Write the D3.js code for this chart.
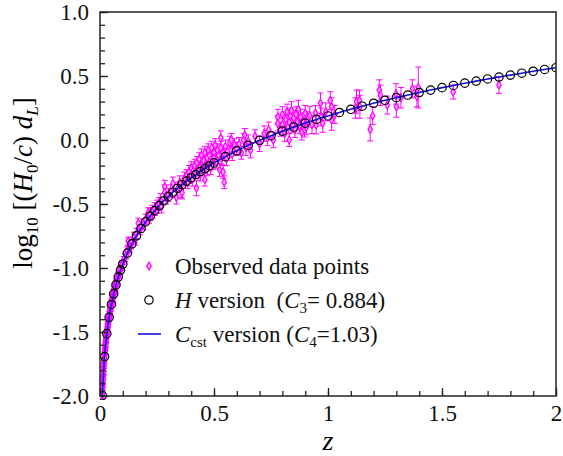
<!DOCTYPE html>
<html>
<head>
<meta charset="utf-8">
<script src="https://cdn.jsdelivr.net/npm/d3@7"></script>
<style>
  body { margin: 0; background: #fff; }
  svg { font-family: "Liberation Serif", "Times New Roman", serif; }
</style>
</head>
<body>
<div id="app"></div>
<script>
const width = 563,
  height = 456,
  margin = { top: 12, right: 7, bottom: 60, left: 100 };

// model curve (H version circles, C_cst line passes through them)
const modelZ = [0.01, 0.02, 0.03, 0.04, 0.05, 0.06, 0.07, 0.08, 0.09, 0.10,
  0.12, 0.14, 0.16, 0.18, 0.20, 0.22, 0.24, 0.26, 0.28, 0.30,
  0.32, 0.34, 0.36, 0.38, 0.40, 0.42, 0.44, 0.46, 0.48, 0.50,
  0.55, 0.60, 0.65, 0.70, 0.75, 0.80, 0.85, 0.90, 0.95, 1.00,
  1.05, 1.10, 1.15, 1.20, 1.25, 1.30, 1.35, 1.40, 1.45, 1.50,
  1.55, 1.60, 1.65, 1.70, 1.75, 1.80, 1.85, 1.90, 1.95, 2.00];
const modelY = [-1.997, -1.692, -1.513, -1.385, -1.285, -1.202, -1.132, -1.071, -1.016, -0.969,
  -0.884, -0.811, -0.748, -0.691, -0.640, -0.594, -0.551, -0.512, -0.475, -0.441,
  -0.408, -0.378, -0.349, -0.321, -0.295, -0.270, -0.246, -0.223, -0.201, -0.179,
  -0.130, -0.084, -0.042, -0.002, 0.034, 0.069, 0.101, 0.132, 0.161, 0.188,
  0.215, 0.240, 0.264, 0.287, 0.310, 0.331, 0.351, 0.371, 0.390, 0.409,
  0.426, 0.444, 0.460, 0.477, 0.492, 0.507, 0.522, 0.537, 0.551, 0.565];

// observed points: redshift, log10 distance, error
const obsZ = [0.010, 0.011, 0.012, 0.012, 0.013, 0.014, 0.014, 0.015, 0.015, 0.016,
  0.016, 0.017, 0.018, 0.018, 0.019, 0.020, 0.020, 0.021, 0.022, 0.022,
  0.023, 0.024, 0.024, 0.025, 0.026, 0.026, 0.027, 0.028, 0.029, 0.030,
  0.030, 0.031, 0.032, 0.033, 0.034, 0.035, 0.036, 0.036, 0.037, 0.038,
  0.039, 0.040, 0.041, 0.042, 0.043, 0.044, 0.045, 0.046, 0.047, 0.048,
  0.049, 0.050, 0.051, 0.052, 0.053, 0.054, 0.055, 0.056, 0.057, 0.058,
  0.059, 0.060, 0.061, 0.062, 0.063, 0.064, 0.065, 0.066, 0.067, 0.068,
  0.069, 0.070, 0.072, 0.073, 0.075, 0.076, 0.078, 0.080, 0.082, 0.084,
  0.086, 0.088, 0.090, 0.093, 0.095, 0.098,
  0.104, 0.110, 0.116, 0.120, 0.124, 0.130, 0.136, 0.140, 0.150, 0.155,
  0.160, 0.168, 0.175, 0.180, 0.190, 0.200, 0.211, 0.215, 0.220, 0.230,
  0.240, 0.250, 0.260, 0.265, 0.270, 0.284, 0.284, 0.290, 0.300, 0.310,
  0.320, 0.335, 0.340, 0.350, 0.357, 0.360, 0.370,
  0.380, 0.385, 0.390, 0.395, 0.400, 0.400, 0.405, 0.410, 0.415, 0.420,
  0.423, 0.425, 0.430, 0.435, 0.440, 0.440, 0.445, 0.450, 0.450, 0.455,
  0.460, 0.460, 0.465, 0.470, 0.470, 0.475, 0.480, 0.480, 0.485, 0.490,
  0.490, 0.495, 0.500, 0.500, 0.505, 0.510, 0.515, 0.520, 0.525, 0.530,
  0.530, 0.535, 0.540, 0.540, 0.545, 0.550, 0.555, 0.560, 0.570, 0.576,
  0.580, 0.590, 0.600,
  0.610, 0.620, 0.630, 0.635, 0.640, 0.650, 0.660, 0.680, 0.700, 0.720,
  0.735, 0.740, 0.760,
  0.780, 0.780, 0.790, 0.800, 0.800, 0.810, 0.815, 0.820, 0.825, 0.830,
  0.830, 0.835, 0.840, 0.845, 0.850, 0.855, 0.860, 0.865, 0.870, 0.875,
  0.880, 0.885, 0.890, 0.897, 0.900, 0.905, 0.910, 0.920,
  0.930, 0.945, 0.948, 0.967, 0.970, 0.977, 0.990, 1.010, 1.016, 1.016,
  1.030, 1.120, 1.125, 1.138, 1.140, 1.185, 1.196, 1.225, 1.230, 1.260,
  1.298, 1.300, 1.320, 1.370, 1.390, 1.396, 1.549, 1.750];
const obsY = [-1.99, -1.95, -1.93, -1.90, -1.88, -1.84, -1.87, -1.80, -1.83, -1.78,
  -1.81, -1.76, -1.74, -1.72, -1.71, -1.68, -1.70, -1.66, -1.65, -1.63,
  -1.62, -1.61, -1.59, -1.60, -1.57, -1.55, -1.56, -1.54, -1.52, -1.51,
  -1.49, -1.50, -1.48, -1.46, -1.45, -1.44, -1.42, -1.44, -1.41, -1.40,
  -1.39, -1.38, -1.36, -1.37, -1.35, -1.33, -1.34, -1.32, -1.30, -1.31,
  -1.29, -1.28, -1.27, -1.26, -1.25, -1.25, -1.23, -1.24, -1.22, -1.21,
  -1.20, -1.21, -1.19, -1.18, -1.17, -1.18, -1.16, -1.15, -1.14, -1.15,
  -1.13, -1.12, -1.11, -1.12, -1.09, -1.10, -1.07, -1.06, -1.05, -1.05,
  -1.03, -1.02, -1.01, -0.99, -0.98, -0.97,
  -0.94, -0.92, -0.90, -0.86, -0.79, -0.85, -0.82, -0.80, -0.76, -0.78,
  -0.73, -0.65, -0.70, -0.68, -0.66, -0.62, -0.57, -0.61, -0.58, -0.56,
  -0.54, -0.52, -0.50, -0.47, -0.52, -0.365, -0.41, -0.45, -0.43, -0.40,
  -0.34, -0.45, -0.38, -0.33, -0.39, -0.41, -0.30,
  -0.28, -0.33, -0.25, -0.30, -0.22, -0.27, -0.31, -0.24, -0.20, -0.26,
  -0.375, -0.18, -0.23, -0.15, -0.21, -0.27, -0.12, -0.19, -0.24, -0.16,
  -0.31, -0.10, -0.20, -0.14, -0.23, -0.08, -0.17, -0.12, -0.22, -0.06,
  -0.15, -0.19, -0.10, -0.14, -0.04, -0.17, -0.08, -0.12, -0.234, 0.016,
  -0.06, -0.14, -0.25, -0.10, -0.33, -0.05, -0.15, -0.09, -0.02, 0.00,
  -0.11, -0.04, -0.07,
  -0.03, -0.10, 0.00, 0.04, -0.06, -0.01, -0.08, 0.03, -0.03, 0.05,
  0.016, 0.08, 0.00,
  0.18, 0.13, 0.08, 0.20, 0.12, 0.05, 0.16, 0.22, 0.10, 0.00,
  0.14, 0.19, 0.23, 0.12, 0.17, 0.08, 0.20, 0.14, 0.24, 0.11,
  0.18, 0.06, 0.15, 0.083, 0.21, 0.10, 0.16, 0.19,
  0.12, 0.21, 0.117, 0.287, 0.18, 0.13, 0.22, 0.307, 0.26, 0.156,
  0.20, 0.25, 0.30, 0.31, 0.26, 0.083, 0.19, 0.39, 0.35, 0.273,
  0.36, 0.258, 0.33, 0.40, 0.34, 0.41, 0.375, 0.43];
const obsE = [0.03, 0.03, 0.03, 0.03, 0.03, 0.03, 0.03, 0.03, 0.03, 0.03,
  0.025, 0.025, 0.025, 0.025, 0.025, 0.025, 0.025, 0.025, 0.025, 0.025,
  0.025, 0.025, 0.025, 0.02, 0.02, 0.02, 0.02, 0.02, 0.02, 0.02,
  0.02, 0.02, 0.02, 0.02, 0.02, 0.02, 0.02, 0.02, 0.02, 0.02,
  0.02, 0.02, 0.02, 0.02, 0.02, 0.02, 0.02, 0.02, 0.02, 0.02,
  0.02, 0.02, 0.02, 0.02, 0.02, 0.02, 0.02, 0.02, 0.02, 0.02,
  0.02, 0.02, 0.02, 0.02, 0.02, 0.02, 0.02, 0.02, 0.02, 0.025,
  0.025, 0.025, 0.025, 0.025, 0.025, 0.025, 0.025, 0.025, 0.025, 0.025,
  0.025, 0.03, 0.03, 0.03, 0.03, 0.03,
  0.03, 0.03, 0.03, 0.03, 0.03, 0.03, 0.03, 0.04, 0.04, 0.04,
  0.04, 0.04, 0.04, 0.04, 0.04, 0.04, 0.04, 0.04, 0.05, 0.05,
  0.05, 0.05, 0.05, 0.05, 0.05, 0.05, 0.06, 0.05, 0.05, 0.05,
  0.05, 0.05, 0.05, 0.05, 0.06, 0.05, 0.05,
  0.05, 0.05, 0.05, 0.04, 0.05, 0.05, 0.05, 0.05, 0.05, 0.04,
  0.06, 0.05, 0.05, 0.05, 0.04, 0.05, 0.05, 0.05, 0.04, 0.05,
  0.05, 0.05, 0.04, 0.05, 0.05, 0.05, 0.05, 0.04, 0.05, 0.05,
  0.05, 0.04, 0.05, 0.05, 0.05, 0.05, 0.05, 0.05, 0.05, 0.055,
  0.05, 0.05, 0.05, 0.05, 0.05, 0.05, 0.05, 0.05, 0.05, 0.05,
  0.05, 0.05, 0.05,
  0.05, 0.05, 0.05, 0.05, 0.06, 0.05, 0.06, 0.05, 0.06, 0.06,
  0.06, 0.06, 0.06,
  0.06, 0.06, 0.05, 0.06, 0.05, 0.06, 0.06, 0.06, 0.05, 0.05,
  0.06, 0.06, 0.07, 0.06, 0.06, 0.06, 0.06, 0.06, 0.07, 0.06,
  0.06, 0.06, 0.06, 0.06, 0.06, 0.06, 0.06, 0.07,
  0.07, 0.06, 0.07, 0.08, 0.07, 0.07, 0.07, 0.07, 0.07, 0.08,
  0.07, 0.08, 0.09, 0.08, 0.09, 0.09, 0.07, 0.08, 0.08, 0.07,
  0.08, 0.08, 0.08, 0.07, 0.08, 0.16, 0.055, 0.065];

const xTicks = [0, 0.5, 1, 1.5, 2];
const xTickLabels = ["0", "0.5", "1", "1.5", "2"];
const yTicks = [-2, -1.5, -1, -0.5, 0, 0.5, 1];
const yTickLabels = ["-2.0", "-1.5", "-1.0", "-0.5", "0.0", "0.5", "1.0"];

const magenta = "#ff00ff",
  blue = "#1010e0";

const xScale = d3.scaleLinear().domain([0, 2]).range([margin.left, width - margin.right]);
const yScale = d3.scaleLinear().domain([-2, 1]).range([height - margin.bottom, margin.top]);

const svg = d3
  .select("#app")
  .append("svg")
  .attr("width", width)
  .attr("height", height);

svg.append("defs")
  .append("clipPath")
  .attr("id", "clip")
  .append("rect")
  .attr("x", margin.left)
  .attr("y", margin.top - 4)
  .attr("width", width - margin.left - margin.right)
  .attr("height", height - margin.top - margin.bottom + 8);

const obs = obsZ.map((z, i) => ({ z: z, y: obsY[i], e: obsE[i] }));
const model = modelZ.map((z, i) => ({ z: z, y: modelY[i] }));

const plot = svg.append("g").attr("clip-path", "url(#clip)");

// error bars
const bars = plot.append("g")
  .attr("stroke", magenta)
  .attr("stroke-width", 1)
  .selectAll("g")
  .data(obs)
  .join("g");
bars.append("line")
  .attr("x1", (d) => xScale(d.z))
  .attr("x2", (d) => xScale(d.z))
  .attr("y1", (d) => yScale(d.y - d.e))
  .attr("y2", (d) => yScale(d.y + d.e));
bars.append("line")
  .attr("x1", (d) => xScale(d.z) - 3)
  .attr("x2", (d) => xScale(d.z) + 3)
  .attr("y1", (d) => yScale(d.y - d.e))
  .attr("y2", (d) => yScale(d.y - d.e));
bars.append("line")
  .attr("x1", (d) => xScale(d.z) - 3)
  .attr("x2", (d) => xScale(d.z) + 3)
  .attr("y1", (d) => yScale(d.y + d.e))
  .attr("y2", (d) => yScale(d.y + d.e));

const diamond = d3.symbol(d3.symbolDiamond, 18);
plot.append("g")
  .selectAll("path")
  .data(obs)
  .join("path")
  .attr("transform", (d) => `translate(${xScale(d.z)},${yScale(d.y)})`)
  .attr("d", diamond)
  .attr("fill", "#ff9cff")
  .attr("stroke", magenta)
  .attr("stroke-width", 1.2);

// C_cst line
plot.append("path")
  .datum(model)
  .attr("fill", "none")
  .attr("stroke", blue)
  .attr("stroke-width", 1.6)
  .attr("d", d3.line().x((d) => xScale(d.z)).y((d) => yScale(d.y)).curve(d3.curveMonotoneX));

// H version circles
plot.append("g")
  .selectAll("circle")
  .data(model)
  .join("circle")
  .attr("cx", (d) => xScale(d.z))
  .attr("cy", (d) => yScale(d.y))
  .attr("r", 4.2)
  .attr("fill", "none")
  .attr("stroke", "#000")
  .attr("stroke-width", 1.2);

// frame
svg.append("rect")
  .attr("x", margin.left)
  .attr("y", margin.top)
  .attr("width", width - margin.left - margin.right)
  .attr("height", height - margin.top - margin.bottom)
  .attr("fill", "none")
  .attr("stroke", "#222")
  .attr("stroke-width", 1.5);

// axes with inward ticks
const xAxis = (g) =>
  g
    .attr("transform", `translate(0,${height - margin.bottom})`)
    .call(d3.axisBottom(xScale).tickValues(d3.range(0, 2.001, 0.1)).tickSize(-5).tickFormat(""))
    .call((g) => g.select(".domain").remove());
const xAxisMajor = (g) =>
  g
    .attr("transform", `translate(0,${height - margin.bottom})`)
    .call(d3.axisBottom(xScale).tickValues(xTicks).tickSize(-8).tickPadding(9)
      .tickFormat((d, i) => xTickLabels[i]))
    .call((g) => g.select(".domain").remove());
const yAxis = (g) =>
  g
    .attr("transform", `translate(${margin.left},0)`)
    .call(d3.axisLeft(yScale).tickValues(d3.range(-2, 1.001, 0.1)).tickSize(-5).tickFormat(""))
    .call((g) => g.select(".domain").remove());
const yAxisMajor = (g) =>
  g
    .attr("transform", `translate(${margin.left},0)`)
    .call(d3.axisLeft(yScale).tickValues(yTicks).tickSize(-8).tickPadding(11)
      .tickFormat((d, i) => yTickLabels[i]))
    .call((g) => g.select(".domain").remove());

[xAxis, xAxisMajor, yAxis, yAxisMajor].forEach((ax) => {
  const g = svg.append("g").call(ax);
  g.selectAll("line").attr("stroke", "#222").attr("stroke-width", 1.3);
  g.selectAll("text")
    .attr("fill", "#111")
    .style("font-family", "'Liberation Serif', serif")
    .style("font-size", "23px");
});

// axis titles
svg.append("text")
  .attr("x", xScale(1))
  .attr("y", 450)
  .attr("text-anchor", "middle")
  .style("font-size", "28px")
  .style("font-style", "italic")
  .text("z");

const yLab = svg.append("text")
  .attr("transform", `translate(32,183) rotate(-90)`)
  .attr("text-anchor", "middle")
  .style("font-size", "27px");
yLab.append("tspan").text("log");
yLab.append("tspan").attr("dy", 6).style("font-size", "17px").text("10");
yLab.append("tspan").attr("dy", -6).text(" [(");
yLab.append("tspan").style("font-style", "italic").text("H");
yLab.append("tspan").attr("dy", 6).style("font-size", "17px").text("0");
yLab.append("tspan").attr("dy", -6).text("/");
yLab.append("tspan").style("font-style", "italic").text("c");
yLab.append("tspan").text(") ");
yLab.append("tspan").style("font-style", "italic").text("d");
yLab.append("tspan").attr("dy", 6).style("font-size", "17px").style("font-style", "italic").text("L");
yLab.append("tspan").attr("dy", -6).text("]");

// legend
const legX = 149,
  legTextX = 175,
  legRows = [266, 300, 334];

svg.append("path")
  .attr("transform", `translate(${legX},${legRows[0]})`)
  .attr("d", diamond)
  .attr("fill", "#ff9cff")
  .attr("stroke", magenta)
  .attr("stroke-width", 1.2);
svg.append("circle")
  .attr("cx", legX)
  .attr("cy", legRows[1])
  .attr("r", 4.2)
  .attr("fill", "none")
  .attr("stroke", "#000")
  .attr("stroke-width", 1.2);
svg.append("line")
  .attr("x1", legX - 11)
  .attr("x2", legX + 12)
  .attr("y1", legRows[2])
  .attr("y2", legRows[2])
  .attr("stroke", blue)
  .attr("stroke-width", 1.6);

const legText = (row) =>
  svg.append("text")
    .attr("x", legTextX)
    .attr("y", legRows[row] + 8)
    .style("font-size", "23px")
    .attr("fill", "#111");

legText(0).text("Observed data points");

const t1 = legText(1);
t1.append("tspan").style("font-style", "italic").text("H");
t1.append("tspan").text(" version\u00a0\u00a0(");
t1.append("tspan").style("font-style", "italic").text("C");
t1.append("tspan").attr("dy", 5).style("font-size", "15px").text("3");
t1.append("tspan").attr("dy", -5).text("= 0.884)");

const t2 = legText(2);
t2.append("tspan").style("font-style", "italic").text("C");
t2.append("tspan").attr("dy", 5).style("font-size", "15px").text("cst");
t2.append("tspan").attr("dy", -5).text(" version (");
t2.append("tspan").style("font-style", "italic").text("C");
t2.append("tspan").attr("dy", 5).style("font-size", "15px").text("4");
t2.append("tspan").attr("dy", -5).text("=1.03)");
</script>
</body>
</html>
